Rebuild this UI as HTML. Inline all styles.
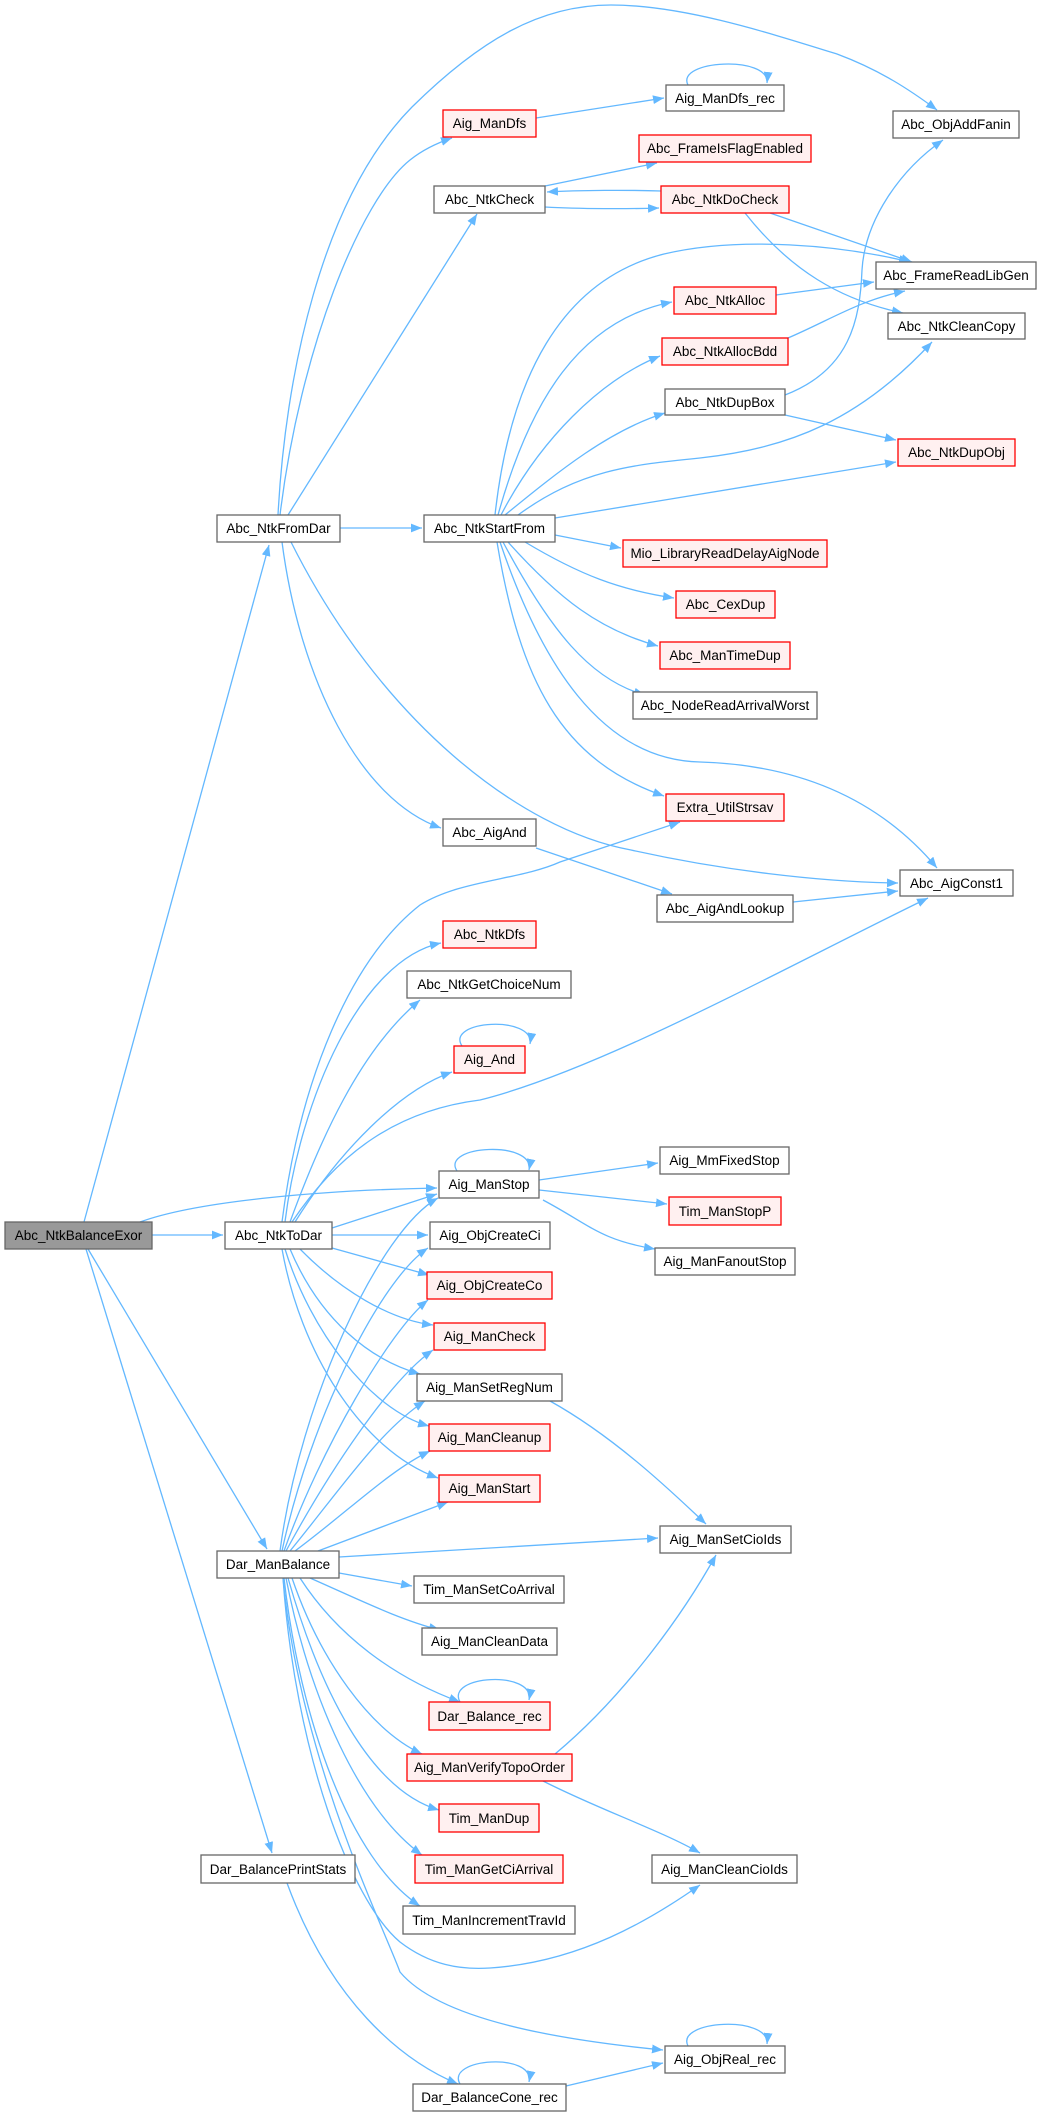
<!DOCTYPE html>
<html><head><meta charset="utf-8"><style>
html,body{margin:0;padding:0;background:#fff;}
svg{display:block;}
text{font-family:"Liberation Sans",Arial,sans-serif;font-size:13.5px;fill:#000;text-anchor:middle;}
.e{fill:none;stroke:#63b8ff;stroke-width:1.3;marker-end:url(#a);}
.n{fill:#fff;stroke:#666;stroke-width:1.3;}
.r{fill:#fff0f0;stroke:#ff0000;stroke-width:1.3;}
.g{fill:#999;stroke:#666;stroke-width:1.3;}
</style></head><body>
<svg width="1037" height="2113" viewBox="0 0 1037 2113" xmlns="http://www.w3.org/2000/svg">
<defs><marker id="a" markerUnits="userSpaceOnUse" viewBox="0 0 10 8" refX="10" refY="4" markerWidth="11" markerHeight="9" orient="auto"><path d="M0,0 L10,4 L0,8 z" fill="#63b8ff"/></marker></defs>
<g>
<path class="e" d="M152,1235 L223,1235"/>
<path class="e" d="M84,1222 L269,545"/>
<path class="e" d="M140,1222 C200,1200 330,1190 437,1188"/>
<path class="e" d="M88,1249 L267,1549"/>
<path class="e" d="M86,1249 L272,1853"/>
<path class="e" d="M280,515 C300,350 360,200 410,160 C425,148 440,142 452,138"/>
<path class="e" d="M278,515 C285,380 320,200 412,107 C480,40 540,5 611,5 C680,5 760,30 837,54 C880,70 910,90 937,110"/>
<path class="e" d="M288,515 L477,214"/>
<path class="e" d="M340,528 L422,528"/>
<path class="e" d="M282,542 C300,680 360,800 441,828"/>
<path class="e" d="M291,542 C380,720 520,830 631,850 C720,870 820,882 898,883"/>
<path class="e" d="M536,118 L664,98"/>
<path class="e" d="M688,85 C675,60 770,55 767,83"/>
<path class="e" d="M545,186 L657,163"/>
<path class="e" d="M661,191 C630,190 580,190 547,192"/>
<path class="e" d="M545,207 C580,209 630,209 659,208"/>
<path class="e" d="M770,213 L912,262"/>
<path class="e" d="M745,213 C790,270 840,300 903,313"/>
<path class="e" d="M495,515 C510,380 560,280 664,254 C740,236 840,245 910,262"/>
<path class="e" d="M498,515 C530,400 580,320 672,302"/>
<path class="e" d="M501,515 C540,440 600,380 660,356"/>
<path class="e" d="M505,515 C560,470 610,430 665,413"/>
<path class="e" d="M518,515 C580,470 630,465 700,458 C790,448 860,420 932,342"/>
<path class="e" d="M555,518 L896,462"/>
<path class="e" d="M555,535 L621,548"/>
<path class="e" d="M525,542 C580,575 620,590 674,598"/>
<path class="e" d="M508,542 C560,600 600,630 658,646"/>
<path class="e" d="M503,542 C550,630 590,680 645,695"/>
<path class="e" d="M497,542 C520,680 560,760 664,796"/>
<path class="e" d="M500,542 C540,660 600,760 700,762 C800,765 880,800 937,868"/>
<path class="e" d="M776,295 L874,282"/>
<path class="e" d="M788,338 C830,320 860,300 905,291"/>
<path class="e" d="M785,395 C850,370 860,320 862,270 C865,220 900,170 943,140"/>
<path class="e" d="M785,415 L896,440"/>
<path class="e" d="M536,848 L672,894"/>
<path class="e" d="M793,902 L898,891"/>
<path class="e" d="M282,1222 C300,1080 350,960 420,905 C460,880 520,880 560,862 L680,822"/>
<path class="e" d="M285,1222 C300,1100 360,960 441,943"/>
<path class="e" d="M290,1222 C320,1140 360,1050 420,1000"/>
<path class="e" d="M295,1222 C340,1150 400,1090 452,1072"/>
<path class="e" d="M292,1222 C340,1150 400,1110 480,1100 C600,1070 780,970 928,898"/>
<path class="e" d="M332,1228 L437,1194"/>
<path class="e" d="M332,1235 L428,1235"/>
<path class="e" d="M332,1248 L429,1275"/>
<path class="e" d="M300,1249 C340,1290 390,1320 433,1325"/>
<path class="e" d="M290,1249 C320,1320 370,1360 420,1374"/>
<path class="e" d="M285,1249 C310,1330 370,1410 429,1426"/>
<path class="e" d="M282,1249 C300,1350 360,1450 438,1478"/>
<path class="e" d="M462,1046 C445,1020 535,1015 530,1044"/>
<path class="e" d="M457,1171 C440,1145 535,1140 529,1170"/>
<path class="e" d="M539,1180 L658,1163"/>
<path class="e" d="M539,1190 L667,1204"/>
<path class="e" d="M543,1200 C590,1225 600,1240 655,1249"/>
<path class="e" d="M280,1551 C300,1400 380,1230 438,1198"/>
<path class="e" d="M282,1551 C310,1420 380,1280 428,1248"/>
<path class="e" d="M284,1551 C320,1450 390,1330 428,1300"/>
<path class="e" d="M286,1551 C330,1470 390,1380 433,1350"/>
<path class="e" d="M290,1551 C340,1490 380,1430 425,1401"/>
<path class="e" d="M295,1551 C350,1510 390,1470 430,1451"/>
<path class="e" d="M318,1551 L448,1502"/>
<path class="e" d="M339,1557 L658,1538"/>
<path class="e" d="M339,1573 L412,1586"/>
<path class="e" d="M310,1578 C360,1600 400,1620 440,1630"/>
<path class="e" d="M300,1578 C340,1640 400,1680 460,1702"/>
<path class="e" d="M292,1578 C320,1660 370,1730 422,1754"/>
<path class="e" d="M288,1578 C320,1690 370,1790 439,1810"/>
<path class="e" d="M286,1578 C310,1700 360,1810 422,1855"/>
<path class="e" d="M284,1578 C300,1720 350,1860 420,1906"/>
<path class="e" d="M283,1578 C295,1750 350,1900 400,1942 C430,1965 460,1970 490,1968 C580,1962 650,1920 700,1885"/>
<path class="e" d="M283,1578 C300,1760 385,1930 400,1972 C440,2020 560,2040 663,2050"/>
<path class="e" d="M550,1401 C620,1440 680,1500 706,1524"/>
<path class="e" d="M555,1754 C620,1700 680,1620 716,1555"/>
<path class="e" d="M543,1781 C600,1810 660,1830 700,1853"/>
<path class="e" d="M460,1702 C445,1675 535,1670 529,1700"/>
<path class="e" d="M287,1883 C330,2000 400,2060 458,2084"/>
<path class="e" d="M460,2084 C445,2058 535,2052 529,2082"/>
<path class="e" d="M566,2086 L663,2063"/>
<path class="e" d="M688,2046 C675,2020 770,2015 767,2044"/>
</g>
<g>
<rect class="g" x="5" y="1222" width="147" height="27"/><text x="78.5" y="1240">Abc_NtkBalanceExor</text>
<rect class="n" x="225" y="1222" width="107" height="27"/><text x="278.5" y="1240">Abc_NtkToDar</text>
<rect class="n" x="217" y="515" width="123" height="27"/><text x="278.5" y="533">Abc_NtkFromDar</text>
<rect class="n" x="217" y="1551" width="122" height="27"/><text x="278" y="1569">Dar_ManBalance</text>
<rect class="n" x="201" y="1855" width="154" height="28"/><text x="278" y="1874">Dar_BalancePrintStats</text>
<rect class="r" x="443" y="110" width="93" height="27"/><text x="489.5" y="128">Aig_ManDfs</text>
<rect class="n" x="434" y="186" width="111" height="27"/><text x="489.5" y="204">Abc_NtkCheck</text>
<rect class="n" x="424" y="515" width="131" height="27"/><text x="489.5" y="533">Abc_NtkStartFrom</text>
<rect class="n" x="443" y="819" width="93" height="27"/><text x="489.5" y="837">Abc_AigAnd</text>
<rect class="r" x="443" y="921" width="93" height="27"/><text x="489.5" y="939">Abc_NtkDfs</text>
<rect class="n" x="407" y="971" width="164" height="27"/><text x="489" y="989">Abc_NtkGetChoiceNum</text>
<rect class="r" x="454" y="1046" width="71" height="27"/><text x="489.5" y="1064">Aig_And</text>
<rect class="n" x="439" y="1171" width="100" height="27"/><text x="489" y="1189">Aig_ManStop</text>
<rect class="n" x="430" y="1222" width="120" height="27"/><text x="490" y="1240">Aig_ObjCreateCi</text>
<rect class="r" x="427" y="1272" width="125" height="27"/><text x="489.5" y="1290">Aig_ObjCreateCo</text>
<rect class="r" x="434" y="1323" width="111" height="27"/><text x="489.5" y="1341">Aig_ManCheck</text>
<rect class="n" x="417" y="1374" width="145" height="27"/><text x="489.5" y="1392">Aig_ManSetRegNum</text>
<rect class="r" x="429" y="1424" width="121" height="27"/><text x="489.5" y="1442">Aig_ManCleanup</text>
<rect class="r" x="439" y="1475" width="101" height="27"/><text x="489.5" y="1493">Aig_ManStart</text>
<rect class="n" x="414" y="1576" width="150" height="27"/><text x="489" y="1594">Tim_ManSetCoArrival</text>
<rect class="n" x="422" y="1628" width="135" height="27"/><text x="489.5" y="1646">Aig_ManCleanData</text>
<rect class="r" x="429" y="1702" width="121" height="28"/><text x="489.5" y="1721">Dar_Balance_rec</text>
<rect class="r" x="407" y="1754" width="165" height="27"/><text x="489.5" y="1772">Aig_ManVerifyTopoOrder</text>
<rect class="r" x="439" y="1804" width="100" height="28"/><text x="489" y="1823">Tim_ManDup</text>
<rect class="r" x="415" y="1855" width="148" height="28"/><text x="489" y="1874">Tim_ManGetCiArrival</text>
<rect class="n" x="403" y="1906" width="172" height="28"/><text x="489" y="1925">Tim_ManIncrementTravId</text>
<rect class="n" x="413" y="2084" width="153" height="27"/><text x="489.5" y="2102">Dar_BalanceCone_rec</text>
<rect class="n" x="666" y="85" width="118" height="26"/><text x="725" y="103">Aig_ManDfs_rec</text>
<rect class="r" x="639" y="135" width="172" height="27"/><text x="725" y="153">Abc_FrameIsFlagEnabled</text>
<rect class="r" x="661" y="186" width="128" height="27"/><text x="725" y="204">Abc_NtkDoCheck</text>
<rect class="r" x="674" y="287" width="102" height="27"/><text x="725" y="305">Abc_NtkAlloc</text>
<rect class="r" x="662" y="338" width="126" height="27"/><text x="725" y="356">Abc_NtkAllocBdd</text>
<rect class="n" x="665" y="389" width="120" height="26"/><text x="725" y="407">Abc_NtkDupBox</text>
<rect class="r" x="623" y="540" width="204" height="27"/><text x="725" y="558">Mio_LibraryReadDelayAigNode</text>
<rect class="r" x="676" y="591" width="99" height="27"/><text x="725.5" y="609">Abc_CexDup</text>
<rect class="r" x="660" y="642" width="130" height="27"/><text x="725" y="660">Abc_ManTimeDup</text>
<rect class="n" x="633" y="692" width="184" height="27"/><text x="725" y="710">Abc_NodeReadArrivalWorst</text>
<rect class="r" x="666" y="794" width="118" height="27"/><text x="725" y="812">Extra_UtilStrsav</text>
<rect class="n" x="657" y="895" width="136" height="27"/><text x="725" y="913">Abc_AigAndLookup</text>
<rect class="n" x="660" y="1147" width="129" height="27"/><text x="724.5" y="1165">Aig_MmFixedStop</text>
<rect class="r" x="669" y="1197" width="112" height="28"/><text x="725" y="1216">Tim_ManStopP</text>
<rect class="n" x="655" y="1248" width="140" height="27"/><text x="725" y="1266">Aig_ManFanoutStop</text>
<rect class="n" x="660" y="1526" width="131" height="27"/><text x="725.5" y="1544">Aig_ManSetCioIds</text>
<rect class="n" x="652" y="1855" width="145" height="28"/><text x="724.5" y="1874">Aig_ManCleanCioIds</text>
<rect class="n" x="665" y="2046" width="120" height="27"/><text x="725" y="2064">Aig_ObjReal_rec</text>
<rect class="n" x="893" y="111" width="126" height="27"/><text x="956" y="129">Abc_ObjAddFanin</text>
<rect class="n" x="876" y="262" width="160" height="27"/><text x="956" y="280">Abc_FrameReadLibGen</text>
<rect class="n" x="888" y="313" width="137" height="26"/><text x="956.5" y="331">Abc_NtkCleanCopy</text>
<rect class="r" x="898" y="439" width="117" height="27"/><text x="956.5" y="457">Abc_NtkDupObj</text>
<rect class="n" x="900" y="870" width="113" height="26"/><text x="956.5" y="888">Abc_AigConst1</text>
</g>
</svg>
</body></html>
